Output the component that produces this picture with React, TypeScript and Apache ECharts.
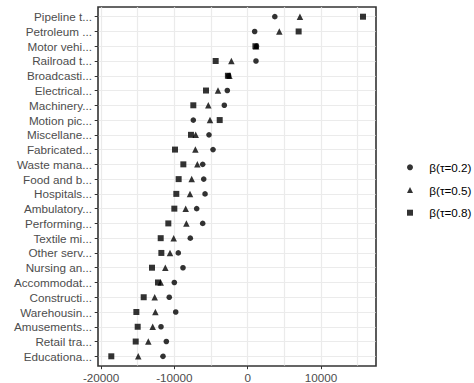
import React, { useEffect, useRef } from "react";
import * as echarts from "echarts";

const categories = [
  "Pipeline t...",
  "Petroleum ...",
  "Motor vehi...",
  "Railroad t...",
  "Broadcasti...",
  "Electrical...",
  "Machinery...",
  "Motion pic...",
  "Miscellane...",
  "Fabricated...",
  "Waste mana...",
  "Food and b...",
  "Hospitals...",
  "Ambulatory...",
  "Performing...",
  "Textile mi...",
  "Other serv...",
  "Nursing an...",
  "Accommodat...",
  "Constructi...",
  "Warehousin...",
  "Amusements...",
  "Retail tra...",
  "Educationa...",
];

const q02 = [3700, 950, 1200, 1130, -2600, -2780, -3190, -7420, -5280, -4730, -6140, -6000, -5820, -6960, -6140, -7830, -9470, -8830, -10010, -10700, -9820, -11830, -11100, -11560];
const q05 = [7130, 4310, 1150, -2230, -2500, -4050, -5370, -5140, -7100, -7140, -6870, -7640, -7870, -8460, -8370, -10100, -10600, -11240, -11870, -12690, -12600, -12960, -13560, -14930];
const q08 = [15730, 6950, 1050, -4370, -2700, -5690, -7420, -3820, -7740, -9920, -8780, -9420, -9740, -10010, -10830, -11870, -11780, -13060, -12240, -14190, -15190, -15010, -15280, -18610];

const seriesNames = ["β(τ=0.2)", "β(τ=0.5)", "β(τ=0.8)"];
const seriesSymbols = ["circle", "triangle", "rect"];
const xTickLabels = [-20000, -10000, 0, 10000];

const FONT = "'Liberation Sans', Arial, sans-serif";

export default function App() {
  const ref = useRef<HTMLDivElement>(null);
  useEffect(() => {
    if (!ref.current) return;
    const chart = echarts.init(ref.current, undefined, { renderer: "svg" });
    const xMin = -20370;
    const xMax = 17450;
    const toPts = (arr: number[]) => arr.map((v, i) => [v, categories[i]]);
    chart.setOption({
      animation: false,
      backgroundColor: "#ffffff",
      textStyle: { fontFamily: FONT },
      grid: [
        { left: 98.4, width: 277.2, top: 16.7, height: 339.6 },
        { left: 101.1, width: 274.5, top: 7.3, height: 358.4 },
        {
          left: 98,
          width: 278,
          top: 7,
          height: 359,
          show: true,
          borderColor: "#333333",
          borderWidth: 1.6,
          backgroundColor: "rgba(0,0,0,0)",
        },
      ],
      xAxis: [
        { gridIndex: 0, type: "value", min: xMin, max: xMax, show: false },
        {
          gridIndex: 1,
          type: "value",
          position: "bottom",
          min: -20000,
          max: xMax,
          interval: 10000,
          axisLine: { show: false, onZero: false },
          axisTick: {
            show: true,
            length: 3.7,
            customValues: xTickLabels,
            lineStyle: { color: "#333333", width: 1 },
          },
          axisLabel: {
            show: true,
            customValues: xTickLabels,
            margin: 5.5,
            fontSize: 11.7,
            color: "#4D4D4D",
            fontFamily: FONT,
            formatter: (v: number) => (xTickLabels.indexOf(v) >= 0 ? String(v) : ""),
          },
          splitLine: { show: false },
        },
        {
          gridIndex: 1,
          type: "value",
          position: "top",
          min: -20000,
          max: xMax,
          interval: 5000,
          axisLine: { show: false, onZero: false },
          axisTick: { show: false },
          axisLabel: { show: false },
          splitLine: {
            show: true,
            showMaxLine: false,
            lineStyle: { color: "#EBEBEB", width: 1.2 },
          },
        },
        { gridIndex: 2, type: "value", show: false },
      ],
      yAxis: [
        {
          gridIndex: 0,
          type: "category",
          data: categories,
          inverse: true,
          boundaryGap: false,
          axisLine: { show: false, onZero: false },
          axisTick: {
            show: true,
            interval: 0,
            length: 3.7,
            lineStyle: { color: "#333333", width: 1 },
          },
          axisLabel: {
            interval: 0,
            margin: 6.5,
            fontSize: 11.7,
            color: "#4D4D4D",
            fontFamily: FONT,
          },
          splitLine: {
            show: true,
            interval: 0,
            lineStyle: { color: "#EBEBEB", width: 1.2 },
          },
        },
        { gridIndex: 1, type: "value", show: false, axisLine: { onZero: false } },
        { gridIndex: 2, type: "value", show: false, axisLine: { onZero: false } },
      ],
      legend: {
        orient: "vertical",
        left: 407,
        top: 160.3,
        padding: 0,
        itemWidth: 6,
        itemHeight: 6,
        itemGap: 8.7,
        textStyle: {
          fontSize: 11.7,
          color: "#000000",
          fontFamily: FONT,
          lineHeight: 14,
          padding: [0, 0, 0, 11.3],
        },
        data: seriesNames.map((n, i) => ({ name: n, icon: seriesSymbols[i] })),
      },
      series: [
        {
          name: seriesNames[0],
          type: "scatter",
          xAxisIndex: 0,
          yAxisIndex: 0,
          symbol: seriesSymbols[0],
          symbolSize: 5.6,
          itemStyle: { color: "#000000" },
          data: toPts(q02),
        },
        {
          name: seriesNames[1],
          type: "scatter",
          xAxisIndex: 0,
          yAxisIndex: 0,
          symbol: seriesSymbols[1],
          symbolSize: 6.5,
          itemStyle: { color: "#000000" },
          data: toPts(q05),
        },
        {
          name: seriesNames[2],
          type: "scatter",
          xAxisIndex: 0,
          yAxisIndex: 0,
          symbol: seriesSymbols[2],
          symbolSize: 6,
          itemStyle: { color: "#000000" },
          data: toPts(q08),
        },
      ],
    });
    return () => chart.dispose();
  }, []);
  return (
    <div
      ref={ref}
      style={{ position: "absolute", left: 0, top: 0, width: 474, height: 383, background: "#fff" }}
    />
  );
}
